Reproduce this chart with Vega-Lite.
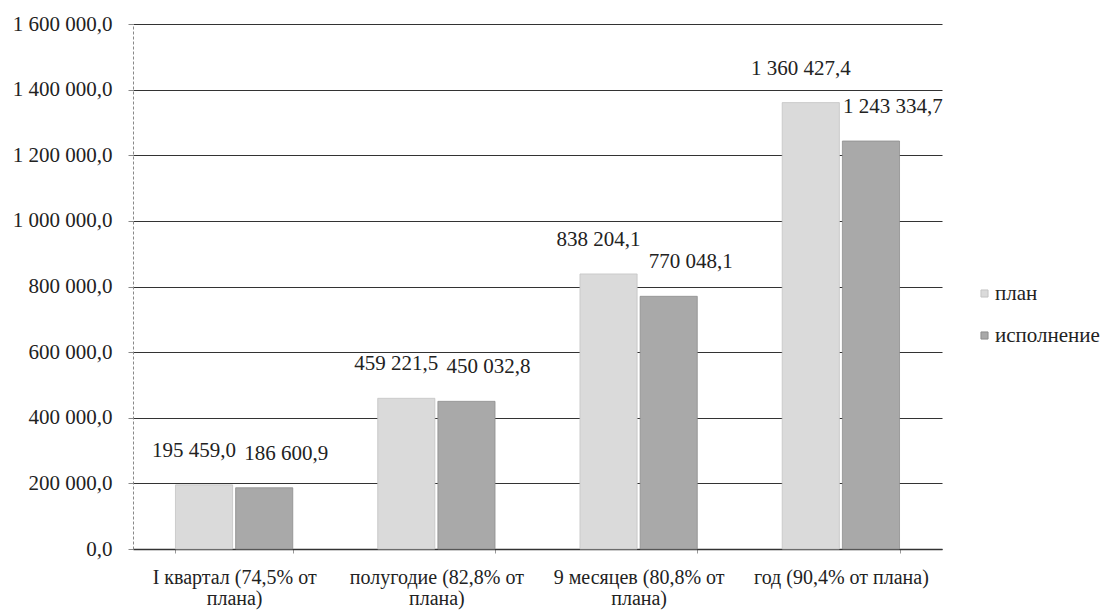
{
  "$schema": "https://vega.github.io/schema/vega-lite/v6.json",
  "width": 809,
  "height": 525,
  "autosize": "none",
  "padding": {"left": 133, "top": 24, "right": 165, "bottom": 62},
  "background": "white",
  "config": {
    "locale": {"number": {"decimal": ",", "thousands": " ", "grouping": [3], "currency": ["", ""]}},
    "font": "Liberation Serif",
    "view": {"stroke": null}
  },
  "data": {
    "values": [
      {"period": "I квартал (74,5% от плана)", "series": "план", "value": 195459.0},
      {"period": "I квартал (74,5% от плана)", "series": "исполнение", "value": 186600.9},
      {"period": "полугодие (82,8% от плана)", "series": "план", "value": 459221.5},
      {"period": "полугодие (82,8% от плана)", "series": "исполнение", "value": 450032.8},
      {"period": "9 месяцев (80,8% от плана)", "series": "план", "value": 838204.1},
      {"period": "9 месяцев (80,8% от плана)", "series": "исполнение", "value": 770048.1},
      {"period": "год (90,4% от плана)", "series": "план", "value": 1360427.4},
      {"period": "год (90,4% от плана)", "series": "исполнение", "value": 1243334.7}
    ]
  },
  "encoding": {
    "x": {
      "field": "period",
      "type": "nominal",
      "sort": null,
      "title": null,
      "scale": {"paddingInner": 0.42, "paddingOuter": 0.21},
      "axis": {
        "labelAngle": 0,
        "labelFont": "Liberation Serif",
        "labelFontSize": 20,
        "labelColor": "#222",
        "labelLineHeight": 21,
        "labelPadding": 14,
        "labelLimit": 0,
        "labelOverlap": false,
        "labelExpr": "length(datum.label) > 22 ? [slice(datum.label, 0, length(datum.label) - 7), 'плана)'] : datum.label",
        "domainColor": "#333",
        "domainWidth": 1.5,
        "tickBand": "extent",
        "tickColor": "#999",
        "tickSize": 4,
        "grid": false
      }
    },
    "xOffset": {
      "field": "series",
      "type": "nominal",
      "sort": ["план", "исполнение"],
      "scale": {"paddingInner": 0.05}
    },
    "y": {
      "field": "value",
      "type": "quantitative",
      "title": null,
      "scale": {"domain": [0, 1600000], "nice": false},
      "axis": {
        "values": [0, 200000, 400000, 600000, 800000, 1000000, 1200000, 1400000, 1600000],
        "format": ",.1f",
        "labelFont": "Liberation Serif",
        "labelFontSize": 21,
        "labelColor": "#222",
        "labelPadding": 16,
        "grid": true,
        "gridColor": "#333",
        "gridWidth": 1.2,
        "domainColor": "#888",
        "domainDash": [3, 2],
        "tickColor": "#888",
        "tickSize": 5
      }
    }
  },
  "layer": [
    {
      "mark": {"type": "bar", "strokeWidth": 0.8},
      "encoding": {
        "color": {
          "field": "series",
          "type": "nominal",
          "sort": ["план", "исполнение"],
          "scale": {"domain": ["план", "исполнение"], "range": ["#dadada", "#a9a9a9"]},
          "legend": {
            "title": null,
            "orient": "none",
            "legendX": 841,
            "legendY": 259,
            "symbolType": "square",
            "symbolSize": 50,
            "symbolStrokeColor": "#666",
            "symbolStrokeWidth": 1,
            "labelFont": "Liberation Serif",
            "labelFontSize": 21,
            "labelColor": "#222",
            "labelOffset": 0,
            "labelLimit": 0,
            "rowPadding": 20
          }
        },
        "stroke": {
          "field": "series",
          "type": "nominal",
          "scale": {"domain": ["план", "исполнение"], "range": ["#c4c4c4", "#8e8e8e"]},
          "legend": null
        }
      }
    },
    {
      "transform": [{"filter": "datum.series === 'план'"}],
      "mark": {"type": "text", "baseline": "middle", "dy": -34, "dx": -10, "font": "Liberation Serif", "fontSize": 21, "color": "#222"},
      "encoding": {
        "text": {"field": "value", "type": "quantitative", "format": ",.1f"}
      }
    },
    {
      "transform": [{"filter": "datum.series === 'исполнение'"}],
      "mark": {"type": "text", "baseline": "middle", "dy": -34, "dx": 22, "font": "Liberation Serif", "fontSize": 21, "color": "#222"},
      "encoding": {
        "text": {"field": "value", "type": "quantitative", "format": ",.1f"}
      }
    }
  ]
}
